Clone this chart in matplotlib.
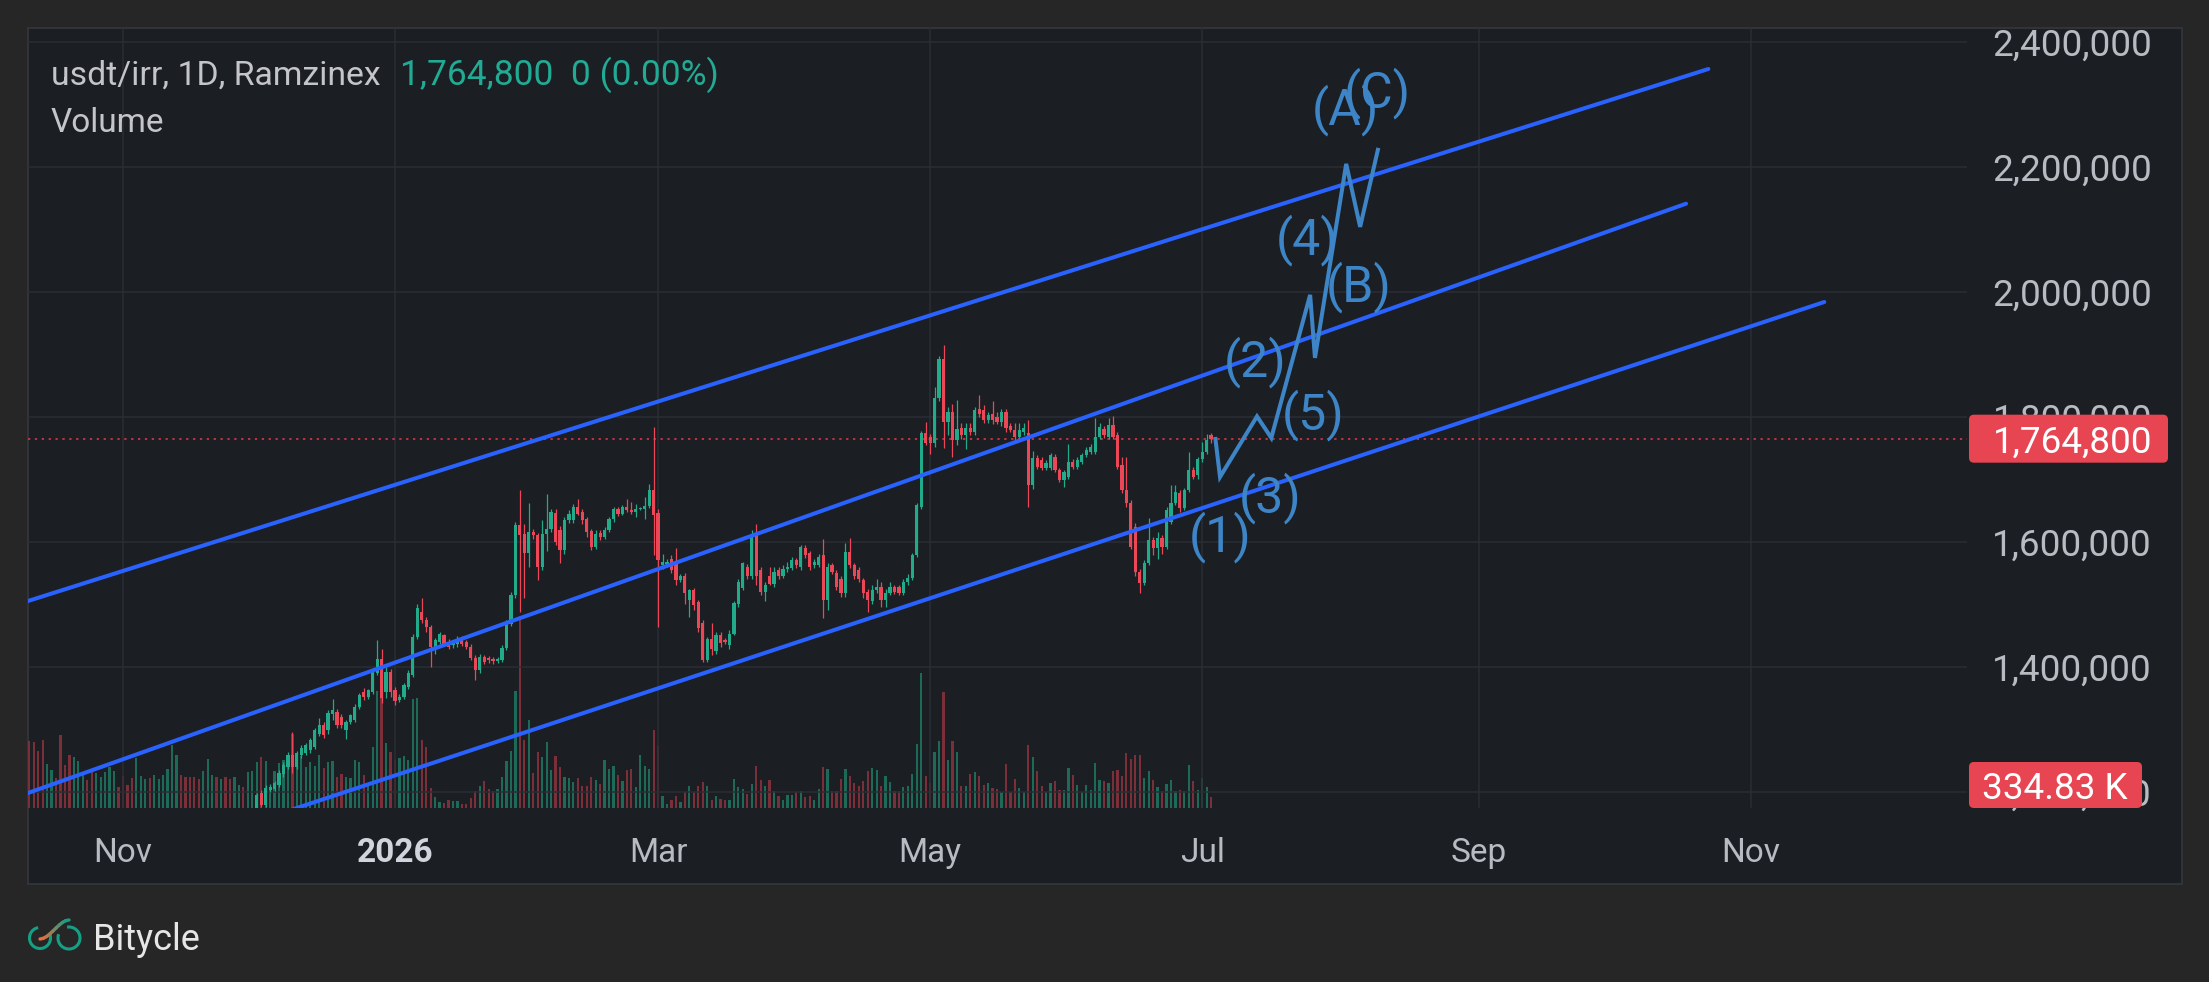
import numpy as np
import pandas as pd
import matplotlib
matplotlib.use('Agg')
import matplotlib.pyplot as plt
import matplotlib.dates as mdates
import matplotlib.patches as mpatches
import matplotlib.transforms as mtransforms
from matplotlib.ticker import FuncFormatter
from matplotlib.collections import LineCollection

plt.rcParams['font.family'] = ['Roboto', 'DejaVu Sans']

# ---- data: daily candles of usdt/irr, prices in thousands of IRR ----
first_day = '2025-10-11'

opens = [
    # Oct/Nov 2025 (below the visible range)
    1120, 1112, 1105, 1098, 1090, 1099, 1106, 1100, 1093, 1088, 1082, 1090, 1097, 1103, 1098, 1092, 1100,
    1106, 1113, 1119, 1126, 1121, 1116, 1112, 1107, 1115, 1120, 1126, 1121, 1127, 1132, 1137, 1141, 1146,
    1152, 1147, 1143, 1139, 1135, 1131, 1136, 1142, 1147, 1143, 1149, 1144, 1140, 1146, 1151, 1147, 1153,
    # Dec 2025 ->
    1165, 1198, 1179, 1203, 1205, 1211, 1228, 1240, 1258, 1240,
    1258, 1262, 1266, 1272, 1293, 1307, 1298, 1325, 1327, 1320,
    1298, 1311, 1314, 1335, 1360, 1352, 1360, 1390, 1412, 1360,
    1392, 1363, 1347, 1351, 1368, 1387, 1447, 1487, 1475, 1463,
    1430, 1440, 1450, 1440, 1434, 1436, 1445, 1439, 1432, 1414,
    1395, 1415, 1414, 1413, 1409, 1410, 1430, 1468, 1515, 1627,
    1613, 1582, 1615, 1610, 1560, 1613, 1620, 1646, 1618, 1587,
    1635, 1635, 1655, 1648, 1636, 1617, 1591, 1614, 1607, 1618,
    1636, 1652, 1645, 1656, 1651, 1648, 1652, 1652, 1657, 1683,
    1646, 1562, 1565, 1573, 1565, 1538, 1545, 1506, 1522, 1503,
    1470, 1410, 1445, 1425, 1450, 1442, 1435, 1453, 1500, 1526,
    1560, 1545, 1610, 1555, 1520, 1545, 1532, 1555, 1545, 1556,
    1558, 1570, 1560, 1590, 1582, 1562, 1563, 1578, 1507, 1562,
    1550, 1540, 1518, 1583, 1562, 1555, 1538, 1520, 1505, 1522,
    1527, 1507, 1518, 1527, 1527, 1518, 1535, 1542, 1578, 1655,
    1774, 1768, 1758, 1830, 1893, 1792, 1808, 1763, 1782, 1770,
    1782, 1775, 1812, 1810, 1795, 1805, 1800, 1792, 1808, 1785,
    1779, 1768, 1775, 1774, 1691, 1734, 1731, 1718, 1718, 1736,
    1715, 1699, 1704, 1728, 1720, 1728, 1739, 1744, 1744, 1768,
    1780, 1768, 1786, 1770, 1722, 1683, 1662, 1624, 1552, 1534,
    1566, 1603, 1590, 1606, 1592, 1632, 1662, 1678, 1654, 1683,
    1715, 1706, 1732, 1744, 1770,
]

highs = [
    1124, 1116, 1109, 1102, 1103, 1110, 1110, 1104, 1097, 1092, 1094, 1101, 1107, 1107, 1102, 1104, 1110,
    1117, 1123, 1130, 1130, 1125, 1120, 1116, 1119, 1124, 1130, 1130, 1131, 1136, 1141, 1145, 1150, 1156,
    1156, 1151, 1147, 1143, 1139, 1140, 1146, 1151, 1151, 1153, 1153, 1148, 1150, 1155, 1155, 1157, 1164,
    1198, 1203, 1210, 1212, 1217, 1235, 1247, 1263, 1296, 1265,
    1274, 1278, 1286, 1302, 1318, 1312, 1330, 1348, 1332, 1324,
    1314, 1325, 1340, 1358, 1366, 1365, 1398, 1443, 1428, 1400,
    1396, 1367, 1356, 1374, 1394, 1452, 1500, 1510, 1480, 1467,
    1446, 1456, 1453, 1444, 1443, 1449, 1449, 1442, 1436, 1418,
    1420, 1418, 1417, 1416, 1416, 1434, 1474, 1520, 1632, 1683,
    1628, 1662, 1620, 1614, 1635, 1676, 1652, 1652, 1625, 1640,
    1650, 1660, 1668, 1652, 1640, 1621, 1618, 1618, 1624, 1640,
    1656, 1656, 1659, 1668, 1664, 1660, 1656, 1672, 1692, 1783,
    1652, 1580, 1572, 1578, 1590, 1548, 1550, 1525, 1526, 1507,
    1475, 1448, 1470, 1455, 1455, 1446, 1458, 1505, 1540, 1568,
    1565, 1618, 1628, 1560, 1535, 1560, 1560, 1560, 1562, 1568,
    1575, 1574, 1595, 1594, 1585, 1572, 1580, 1605, 1566, 1566,
    1554, 1545, 1598, 1606, 1566, 1560, 1542, 1525, 1530, 1540,
    1535, 1525, 1535, 1530, 1530, 1540, 1548, 1582, 1662, 1777,
    1792, 1772, 1848, 1897, 1915, 1815, 1820, 1827, 1790, 1790,
    1790, 1815, 1835, 1818, 1808, 1825, 1808, 1812, 1812, 1790,
    1790, 1790, 1790, 1795, 1745, 1738, 1735, 1730, 1742, 1740,
    1718, 1714, 1756, 1732, 1735, 1742, 1752, 1756, 1798, 1790,
    1785, 1798, 1801, 1775, 1736, 1736, 1666, 1630, 1556, 1570,
    1638, 1608, 1615, 1610, 1656, 1690, 1690, 1682, 1686, 1744,
    1720, 1736, 1760, 1772, 1774,
]

lows = [
    1108, 1101, 1094, 1086, 1086, 1095, 1096, 1089, 1084, 1078, 1078, 1086, 1093, 1094, 1088, 1088, 1096,
    1102, 1109, 1115, 1117, 1112, 1108, 1103, 1103, 1111, 1116, 1117, 1117, 1123, 1128, 1133, 1137, 1142,
    1143, 1139, 1135, 1131, 1127, 1127, 1132, 1138, 1139, 1139, 1140, 1136, 1136, 1142, 1143, 1143, 1149,
    1160, 1176, 1175, 1199, 1201, 1208, 1224, 1237, 1230, 1236,
    1254, 1258, 1262, 1268, 1289, 1286, 1293, 1315, 1302, 1302,
    1285, 1308, 1311, 1332, 1346, 1349, 1356, 1386, 1342, 1350,
    1352, 1339, 1343, 1348, 1365, 1384, 1444, 1470, 1455, 1400,
    1420, 1436, 1433, 1428, 1430, 1432, 1433, 1428, 1410, 1379,
    1390, 1404, 1406, 1405, 1406, 1407, 1426, 1465, 1510, 1487,
    1510, 1560, 1605, 1538, 1555, 1585, 1615, 1595, 1566, 1580,
    1630, 1630, 1643, 1628, 1608, 1586, 1588, 1603, 1604, 1615,
    1632, 1641, 1642, 1647, 1645, 1640, 1650, 1636, 1654, 1578,
    1463, 1557, 1560, 1550, 1530, 1535, 1500, 1480, 1490, 1455,
    1408, 1408, 1418, 1420, 1432, 1436, 1428, 1450, 1496, 1522,
    1540, 1540, 1530, 1515, 1505, 1530, 1528, 1540, 1542, 1552,
    1555, 1558, 1555, 1574, 1555, 1558, 1560, 1478, 1491, 1548,
    1522, 1512, 1512, 1558, 1540, 1535, 1510, 1488, 1500, 1518,
    1495, 1496, 1514, 1516, 1514, 1514, 1530, 1538, 1575, 1653,
    1755, 1740, 1752, 1825, 1750, 1770, 1736, 1755, 1765, 1748,
    1770, 1770, 1800, 1790, 1790, 1788, 1788, 1785, 1775, 1775,
    1760, 1763, 1770, 1656, 1685, 1716, 1714, 1715, 1715, 1712,
    1695, 1688, 1700, 1716, 1717, 1725, 1736, 1741, 1740, 1765,
    1766, 1765, 1764, 1716, 1678, 1655, 1588, 1545, 1518, 1530,
    1562, 1578, 1572, 1580, 1588, 1628, 1658, 1648, 1650, 1680,
    1700, 1700, 1728, 1740, 1758,
]

closes = [
    1112, 1105, 1098, 1090, 1099, 1106, 1100, 1093, 1088, 1082, 1090, 1097, 1103, 1098, 1092, 1100, 1106,
    1113, 1119, 1126, 1121, 1116, 1112, 1107, 1115, 1120, 1126, 1121, 1127, 1132, 1137, 1141, 1146, 1152,
    1147, 1143, 1139, 1135, 1131, 1136, 1142, 1147, 1143, 1149, 1144, 1140, 1146, 1151, 1147, 1153, 1160,
    1195, 1179, 1206, 1208, 1214, 1230, 1243, 1259, 1240, 1262,
    1270, 1274, 1282, 1298, 1307, 1291, 1326, 1330, 1306, 1306,
    1311, 1322, 1335, 1355, 1352, 1362, 1395, 1412, 1350, 1392,
    1360, 1345, 1351, 1370, 1390, 1448, 1494, 1475, 1463, 1432,
    1442, 1452, 1437, 1432, 1439, 1445, 1437, 1432, 1414, 1395,
    1415, 1408, 1410, 1409, 1412, 1430, 1470, 1515, 1627, 1610,
    1582, 1615, 1610, 1560, 1613, 1620, 1647, 1600, 1587, 1635,
    1645, 1655, 1645, 1634, 1615, 1591, 1612, 1607, 1618, 1636,
    1652, 1645, 1655, 1650, 1648, 1652, 1653, 1657, 1683, 1643,
    1570, 1568, 1568, 1555, 1538, 1545, 1518, 1522, 1499, 1462,
    1410, 1445, 1428, 1450, 1438, 1440, 1453, 1502, 1535, 1566,
    1545, 1607, 1545, 1520, 1530, 1532, 1551, 1545, 1556, 1560,
    1570, 1562, 1591, 1578, 1560, 1568, 1575, 1507, 1560, 1552,
    1527, 1518, 1583, 1562, 1545, 1540, 1518, 1507, 1522, 1527,
    1507, 1518, 1527, 1520, 1518, 1535, 1542, 1578, 1659, 1774,
    1758, 1758, 1830, 1893, 1792, 1808, 1763, 1780, 1770, 1782,
    1775, 1810, 1805, 1795, 1803, 1795, 1792, 1808, 1782, 1779,
    1768, 1778, 1782, 1691, 1734, 1720, 1718, 1726, 1739, 1715,
    1699, 1711, 1728, 1720, 1731, 1739, 1747, 1752, 1768, 1784,
    1770, 1787, 1768, 1720, 1683, 1662, 1592, 1552, 1534, 1566,
    1603, 1590, 1606, 1592, 1651, 1662, 1680, 1654, 1683, 1715,
    1704, 1732, 1744, 1763, 1764.8,
]

# volume in thousands
volumes = [
    2039, 2009, 1735, 2070, 1339, 1157, 913, 2222, 1309, 1613, 1552, 1431, 1005, 852, 1126, 1065, 944,
    1096, 1248, 1126, 639, 974, 700, 913, 1522, 974, 883, 913, 1005, 883, 1005, 1187, 1918, 1613,
    1005, 944, 944, 944, 883, 1126, 1492, 1005, 944, 883, 944, 883, 944, 700, 639, 1096, 1126,
    1400, 1552, 1431, 639, 1126, 1370, 1461, 1309, 2253, 1309,
    1583, 1248, 1400, 1278, 1613, 1218, 1400, 1431, 944, 1035,
    944, 913, 1461, 1400, 1005, 761, 1857, 3561, 3653, 1979,
    1705, 1461, 1522, 1583, 1461, 3318, 3348, 2070, 1857, 609,
    335, 183, 152, 244, 213, 213, 122, 122, 304, 517,
    670, 822, 578, 517, 578, 944, 1431, 1735, 3561, 5844,
    2070, 2679, 1065, 1705, 1552, 2009, 1157, 1583, 1248, 944,
    913, 791, 913, 670, 670, 944, 852, 731, 1461, 1187,
    1278, 1005, 822, 1157, 1187, 639, 1613, 1278, 1187, 2374,
    1887, 365, 122, 244, 365, 183, 487, 670, 487, 670,
    791, 670, 244, 365, 274, 244, 244, 883, 639, 578,
    426, 731, 1278, 852, 670, 852, 517, 365, 244, 396,
    396, 487, 517, 335, 365, 244, 578, 1248, 1187, 517,
    517, 883, 1187, 974, 761, 670, 822, 1126, 1218, 1157,
    670, 974, 791, 517, 517, 639, 670, 1035, 1948, 4109,
    974, 761, 1705, 2039, 3531, 1461, 2039, 1705, 670, 670,
    1035, 1096, 974, 700, 761, 609, 578, 487, 1339, 487,
    883, 609, 487, 1918, 1552, 1126, 670, 487, 761, 822,
    548, 548, 1218, 1005, 700, 487, 700, 548, 1370, 852,
    822, 761, 1126, 1157, 974, 1674, 1492, 1613, 1613, 913,
    1126, 852, 639, 517, 731, 852, 517, 548, 517, 1309,
    822, 548, 913, 639, 334.83,
]

# drawn channel (trend lines), prices in thousands
upper_dates = ['2025-10-10 00:00', '2026-10-22 12:00']
upper_prices = [1503.5, 2356.3]
middle_dates = ['2025-10-10 00:00', '2026-10-17 12:00']
middle_prices = [1196.1, 2140.8]
lower_dates = ['2025-11-22 00:00', '2026-11-17 12:00']
lower_prices = [1131.4, 1983.5]

# projected wave path
wave_dates = ['2026-07-03 22:00', '2026-07-05 00:00', '2026-07-13 07:00', '2026-07-16 12:00',
              '2026-07-25 05:00', '2026-07-26 07:00', '2026-08-02 07:00', '2026-08-05 10:00',
              '2026-08-09 12:00']
wave_prices = [1767.5, 1703.5, 1800.5, 1766.1, 1994.9, 1894.1, 2204.5, 2103.7, 2230.1]

wave_labels = ['(1)', '(2)', '(3)', '(4)', '(5)', '(A)', '(B)', '(C)']
wave_label_dates = ['2026-07-05 00:00', '2026-07-12 22:00', '2026-07-16 05:00', '2026-07-24 12:00',
                    '2026-07-25 22:00', '2026-08-02 02:00', '2026-08-05 00:00', '2026-08-09 07:00']
wave_label_prices = [1607.5, 1887.5, 1669.9, 2082.7, 1802.7, 2290.7, 2007.5, 2317.9]

price_ticks = [1200, 1400, 1600, 1800, 2000, 2200, 2400]
month_ticks = ['2025-11-01', '2026-01-01', '2026-03-01', '2026-05-01', '2026-07-01',
               '2026-09-01', '2026-11-01']
month_labels = ['Nov', '2026', 'Mar', 'May', 'Jul', 'Sep', 'Nov']

# ---- style ----
W, H = 2209, 982
BG = '#262626'
PANEL = '#1b1e23'
GRID = '#2a2d33'
TXT = '#b8bbc2'
UP = '#22ab8a'
DOWN = '#ec4757'
VOL_UP = '#1e6a58'
VOL_DOWN = '#7a2f39'
CHANNEL = '#2962ff'
WAVE = '#3d85c6'
LABEL_RED = '#e84553'

fig = plt.figure(figsize=(W / 100, H / 100), dpi=100, facecolor=BG)
px = mtransforms.IdentityTransform()

panel = mpatches.Rectangle((28, H - 884), 2154, 856, transform=px, facecolor=PANEL,
                           edgecolor='#303338', lw=1.5, zorder=-10)
fig.add_artist(panel)

rect = [28 / W, 1 - 808 / H, 1939 / W, 780 / H]
ax_vol = fig.add_axes(rect, zorder=1)
ax = fig.add_axes(rect, sharex=ax_vol, zorder=2)
for a in (ax_vol, ax):
    a.set_facecolor('none')
    for s in a.spines.values():
        s.set_visible(False)

o = np.array(opens, dtype=float)
h = np.array(highs, dtype=float)
l = np.array(lows, dtype=float)
c = np.array(closes, dtype=float)
v = np.array(volumes, dtype=float)
x = mdates.date2num(pd.date_range(first_day, periods=len(c), freq='D'))
up = c >= o

# volume (overlay at the bottom of the pane)
ax_vol.bar(x, v, width=0.5, color=np.where(up, VOL_UP, VOL_DOWN), linewidth=0)
ax_vol.set_ylim(0, 23743)
ax_vol.set_yticks([])
ax_vol.tick_params(axis='x', length=0, labelbottom=False)

# candles
cols = np.where(up, UP, DOWN)
ax.vlines(x, l, h, colors=cols, lw=0.9, zorder=3)
ax.bar(x, np.maximum(np.abs(c - o), 1.6), bottom=np.minimum(o, c), width=0.72,
       color=cols, linewidth=0, zorder=4)

# last price line
ax.axhline(c[-1], color='#f23645', lw=1.1, ls=(0, (1.5, 3)), zorder=2)


def dn(ds):
    return mdates.date2num(pd.to_datetime(ds, format='mixed'))


for ds, ps in ((upper_dates, upper_prices), (middle_dates, middle_prices),
               (lower_dates, lower_prices)):
    ax.plot(dn(ds), ps, color=CHANNEL, lw=2.9, solid_capstyle='round', zorder=5)

ax.plot(dn(wave_dates), wave_prices, color=WAVE, lw=2.9, solid_joinstyle='miter',
        solid_capstyle='butt', zorder=6)
for lab, d, p in zip(wave_labels, dn(wave_label_dates), wave_label_prices):
    ax.text(d, p, lab, color=WAVE, fontsize=36, ha='center', va='center', zorder=7)

ax.set_xlim(dn(['2025-10-10 17:00', '2026-12-19 12:00']))
ax.set_ylim(1173.9, 2421.9)

# axes / grid
ax.set_yticks(price_ticks)
ax.yaxis.set_major_formatter(FuncFormatter(lambda val, pos: f'{val * 1000:,.0f}'))
ax.yaxis.tick_right()
ax.tick_params(axis='y', length=0, pad=133.2, labelsize=26.6, labelcolor=TXT)
for t in ax.yaxis.get_major_ticks():
    t.label2.set_horizontalalignment('right')

ax.set_xticks(dn(month_ticks))
ax.set_xticklabels(month_labels)
ax.tick_params(axis='x', length=0, pad=21, labelsize=24, labelcolor=TXT)
ax.get_xticklabels()[1].set_fontweight('bold')
ax.get_xticklabels()[1].set_color('#d1d4dc')

ax.grid(True, color=GRID, lw=1.1)
ax.set_axisbelow(True)

# header
fig.text(51, H - 85, 'usdt/irr, 1D, Ramzinex', transform=px, fontsize=24.3,
         color='#c3c5ca', va='baseline', ha='left')
fig.text(400, H - 85, f'{c[-1] * 1000:,.0f}  0 (0.00%)', transform=px, fontsize=25.5,
         color='#22ab94', va='baseline', ha='left')
fig.text(51, H - 131.7, 'Volume', transform=px, fontsize=24,
         color='#c3c5ca', va='baseline', ha='left')

# last price and last volume labels on the scale
y_price = ax.transData.transform((ax.get_xlim()[0], c[-1]))[1]
fig.add_artist(mpatches.FancyBboxPatch((1969, y_price - 24), 199, 48,
                                       boxstyle='round,pad=0,rounding_size=5', transform=px,
                                       facecolor=LABEL_RED, edgecolor='none', zorder=20))
fig.text(2152, y_price, f'{c[-1] * 1000:,.0f}', transform=px, fontsize=26.6, color='white',
         ha='right', va='center_baseline', zorder=21)

y_vol = ax_vol.transData.transform((0, v[-1]))[1]
y_vol = max(y_vol, ax.bbox.y0 + 23)
fig.add_artist(mpatches.FancyBboxPatch((1969, y_vol - 23), 173, 46,
                                       boxstyle='round,pad=0,rounding_size=5', transform=px,
                                       facecolor=LABEL_RED, edgecolor='none', zorder=20))
fig.text(2128, y_vol, f'{v[-1]:.2f} K', transform=px, fontsize=26.6, color='white',
         ha='right', va='center_baseline', zorder=21)

# Bitycle logo
teal = '#14a085'
fig.add_artist(mpatches.Arc((40, H - 938), 21, 21, theta1=100, theta2=380, transform=px,
                            color=teal, lw=2.2))
fig.add_artist(mpatches.Arc((69, H - 938), 22, 22, theta1=160, theta2=460, transform=px,
                            color=teal, lw=2.2))
t = np.linspace(0, 1, 10)
sx = 40 + 29 * t
sy = H - (939 - 19 * (3 * t ** 2 - 2 * t ** 3))
segs = np.stack([np.column_stack([sx[:-1], sy[:-1]]), np.column_stack([sx[1:], sy[1:]])], axis=1)
seg_cols = [(0.95 - 0.87 * k, 0.42 + 0.2 * k, 0.23 + 0.29 * k) for k in np.linspace(0, 1, len(segs))]
fig.add_artist(LineCollection(segs, colors=seg_cols, linewidths=2.4, transform=px,
                              capstyle='round'))
fig.text(93, H - 950, 'Bitycle', transform=px, fontsize=26, color='#e6e6e6',
         va='baseline', ha='left')

fig.savefig('out.png', dpi=100, facecolor=BG)
